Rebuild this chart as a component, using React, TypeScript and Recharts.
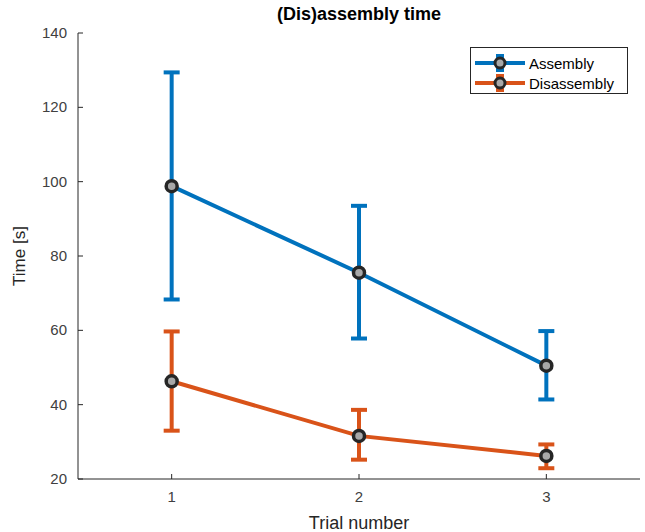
import { LineChart, Line, XAxis, YAxis, ErrorBar } from 'recharts'

const trials = [1, 2, 3]
const assemblyMean = [98.8, 75.5, 50.5]
const assemblyUpper = [129.4, 93.5, 59.8]
const assemblyLower = [68.3, 57.8, 41.4]
const disassemblyMean = [46.3, 31.6, 26.2]
const disassemblyUpper = [59.7, 38.6, 29.3]
const disassemblyLower = [33.0, 25.2, 22.9]
const xTicks = [1, 2, 3]
const yTicks = [20, 40, 60, 80, 100, 120, 140]

const BLUE = '#0072BD'
const ORANGE = '#D95319'
const AXIS = '#262626'
const FONT = '"Liberation Sans", Arial, Helvetica, sans-serif'

const data = trials.map((t, i) => ({
  trial: t,
  assembly: assemblyMean[i],
  assemblyErr: [assemblyMean[i] - assemblyLower[i], assemblyUpper[i] - assemblyMean[i]],
  disassembly: disassemblyMean[i],
  disassemblyErr: [disassemblyMean[i] - disassemblyLower[i], disassemblyUpper[i] - disassemblyMean[i]],
}))

const dotStyle = { r: 5.5, fill: '#a8a8a8', stroke: AXIS, strokeWidth: 3.5 }

function XTick({ x, y, payload }: any) {
  return (
    <g>
      <line x1={x} y1={y} x2={x} y2={y - 5} stroke={AXIS} />
      <text x={x} y={y + 23} textAnchor="middle" fontSize={15} fill="#404040" fontFamily={FONT}>
        {payload.value}
      </text>
    </g>
  )
}

function YTick({ x, y, payload }: any) {
  return (
    <g>
      <line x1={x} y1={y} x2={x + 5} y2={y} stroke={AXIS} />
      <text x={x - 11} y={y + 5} textAnchor="end" fontSize={15} fill="#404040" fontFamily={FONT}>
        {payload.value}
      </text>
    </g>
  )
}

function LegendIcon({ color }: { color: string }) {
  return (
    <svg width={56} height={20} style={{ display: 'block' }}>
      <line x1={4} y1={10} x2={54} y2={10} stroke={color} strokeWidth={4} />
      <line x1={29} y1={2} x2={29} y2={18} stroke={color} strokeWidth={4} />
      <line x1={25} y1={3} x2={33} y2={3} stroke={color} strokeWidth={4} />
      <line x1={25} y1={17} x2={33} y2={17} stroke={color} strokeWidth={4} />
      <circle cx={29} cy={10} r={5} fill="#a8a8a8" stroke={AXIS} strokeWidth={3} />
    </svg>
  )
}

export default function App() {
  return (
    <div style={{ position: 'absolute', left: 0, top: 0, width: 645, height: 532, background: '#fff', fontFamily: FONT }}>
      <div style={{ position: 'absolute', left: 78, top: 4, width: 562, textAlign: 'center', fontWeight: 'bold', fontSize: 18, color: '#000' }}>
        (Dis)assembly time
      </div>
      <LineChart width={645} height={532} data={data} margin={{ top: 33, right: 5, left: 0, bottom: 0 }}>
        <XAxis
          dataKey="trial"
          type="number"
          domain={[0.5, 3.5]}
          ticks={xTicks}
          height={53}
          tickSize={0}
          tickMargin={0}
          tickLine={false}
          axisLine={{ stroke: AXIS }}
          tick={<XTick />}
          label={(p: any) => (
            <text x={p.viewBox.x + p.viewBox.width / 2} y={p.viewBox.y + 50} textAnchor="middle" fontSize={18} fill={AXIS} fontFamily={FONT}>
              Trial number
            </text>
          )}
        />
        <YAxis
          type="number"
          domain={[20, 140]}
          ticks={yTicks}
          width={78}
          tickSize={0}
          tickMargin={0}
          tickLine={false}
          axisLine={{ stroke: AXIS }}
          tick={<YTick />}
          label={(p: any) => {
            const cx = 25
            const cy = p.viewBox.y + p.viewBox.height / 2
            return (
              <text x={cx} y={cy} textAnchor="middle" fontSize={17} fill={AXIS} fontFamily={FONT} transform={`rotate(-90 ${cx} ${cy})`}>
                Time [s]
              </text>
            )
          }}
        />
        <Line dataKey="assembly" stroke={BLUE} strokeWidth={4} dot={dotStyle} activeDot={false} isAnimationActive={false}>
          <ErrorBar dataKey="assemblyErr" direction="y" width={8} stroke={BLUE} strokeWidth={4} isAnimationActive={false} />
        </Line>
        <Line dataKey="disassembly" stroke={ORANGE} strokeWidth={4} dot={dotStyle} activeDot={false} isAnimationActive={false}>
          <ErrorBar dataKey="disassemblyErr" direction="y" width={8} stroke={ORANGE} strokeWidth={4} isAnimationActive={false} />
        </Line>
      </LineChart>
      <div style={{ position: 'absolute', left: 470, top: 47, width: 158, height: 47, border: `1px solid ${AXIS}`, background: '#fff', boxSizing: 'border-box', padding: '5px 0 0 0' }}>
        {[{ name: 'Assembly', color: BLUE }, { name: 'Disassembly', color: ORANGE }].map((s) => (
          <div key={s.name} style={{ display: 'flex', alignItems: 'center', height: 20, fontSize: 15, color: '#000' }}>
            <LegendIcon color={s.color} />
            <span style={{ marginLeft: 2 }}>{s.name}</span>
          </div>
        ))}
      </div>
    </div>
  )
}
